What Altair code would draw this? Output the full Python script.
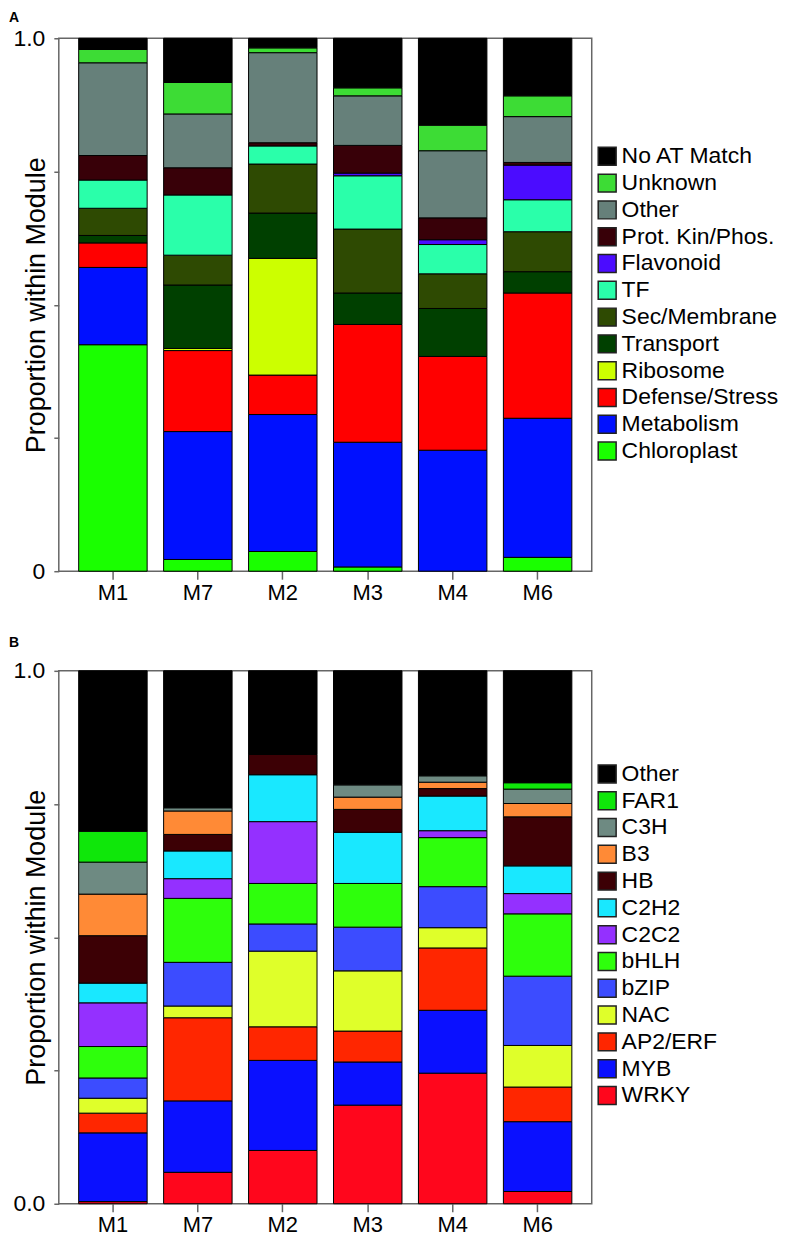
import altair as alt
import pandas as pd

modules = ["M1", "M7", "M2", "M3", "M4", "M6"]

# ---------------- Panel A (categories listed bottom-up) ----------------
a_categories = ["Chloroplast", "Metabolism", "Defense/Stress", "Ribosome", "Transport",
                "Sec/Membrane", "TF", "Flavonoid", "Prot. Kin/Phos.", "Other",
                "Unknown", "No AT Match"]
a_colors = ["#1aff00", "#0010ff", "#ff0000", "#ccff00", "#004000",
            "#2e4a02", "#2affaa", "#4b0cff", "#380008", "#66807a",
            "#3ddc35", "#000000"]
a_M1 = [0.425, 0.145, 0.046, 0.000, 0.014, 0.051, 0.053, 0.000, 0.046, 0.174, 0.025, 0.021]
a_M7 = [0.022, 0.240, 0.152, 0.004, 0.119, 0.056, 0.113, 0.000, 0.051, 0.101, 0.059, 0.083]
a_M2 = [0.037, 0.257, 0.074, 0.219, 0.085, 0.092, 0.034, 0.000, 0.006, 0.169, 0.009, 0.018]
a_M3 = [0.008, 0.234, 0.221, 0.000, 0.059, 0.120, 0.100, 0.005, 0.052, 0.093, 0.015, 0.093]
a_M4 = [0.000, 0.227, 0.176, 0.000, 0.090, 0.065, 0.055, 0.009, 0.041, 0.126, 0.048, 0.163]
a_M6 = [0.026, 0.261, 0.235, 0.000, 0.040, 0.075, 0.060, 0.065, 0.005, 0.086, 0.039, 0.108]

# ---------------- Panel B (categories listed bottom-up) ----------------
b_categories = ["WRKY", "MYB", "AP2/ERF", "NAC", "bZIP", "bHLH", "C2C2", "C2H2",
                "HB", "B3", "C3H", "FAR1", "Other"]
b_colors = ["#ff061c", "#0a10ff", "#ff2600", "#dfff2a", "#3c4cff", "#2eff0c",
            "#9430ff", "#19e8ff", "#3c0005", "#ff8a36", "#6e8a82", "#0fe70a",
            "#000000"]
b_M1 = [0.004, 0.129, 0.037, 0.028, 0.038, 0.059, 0.082, 0.037, 0.089, 0.078, 0.060, 0.058, 0.301]
b_M7 = [0.059, 0.134, 0.156, 0.022, 0.082, 0.120, 0.037, 0.052, 0.031, 0.044, 0.006, 0.000, 0.257]
b_M2 = [0.100, 0.169, 0.063, 0.142, 0.051, 0.076, 0.116, 0.088, 0.038, 0.000, 0.000, 0.000, 0.157]
b_M3 = [0.185, 0.081, 0.058, 0.113, 0.082, 0.082, 0.000, 0.096, 0.043, 0.023, 0.023, 0.000, 0.214]
b_M4 = [0.245, 0.118, 0.117, 0.038, 0.077, 0.092, 0.013, 0.065, 0.014, 0.012, 0.012, 0.000, 0.197]
b_M6 = [0.023, 0.131, 0.065, 0.078, 0.130, 0.117, 0.038, 0.052, 0.092, 0.025, 0.027, 0.012, 0.210]

FONT = "Liberation Sans"
GRAY = "#666666"


def build(cats, colors, per_module, zero_label, title, title_offset, legend_y):
    rows = []
    for m, vals in zip(modules, per_module):
        for i, (c, v) in enumerate(zip(cats, vals)):
            if v > 0:
                rows.append({"module": m, "cat": c, "value": v, "ord": i})
    df = pd.DataFrame(rows)
    label_expr = f"datum.value == 0 ? '{zero_label}' : (datum.value == 1 ? '1.0' : '')"
    return alt.Chart(df).mark_bar(stroke="black", strokeWidth=1).encode(
        x=alt.X("module:N", sort=modules,
                scale=alt.Scale(paddingInner=0.194, paddingOuter=0.234),
                axis=alt.Axis(title=None, labelAngle=0, labelFont=FONT, labelFontSize=22,
                              labelColor="black", labelPadding=3, tickSize=8,
                              tickColor=GRAY, tickWidth=1.5, domain=False)),
        y=alt.Y("value:Q", stack="normalize",
                scale=alt.Scale(domain=[0, 1], nice=False),
                axis=alt.Axis(values=[0, 0.25, 0.5, 0.75, 1], labelExpr=label_expr,
                              title="Proportion within Module", titleFont=FONT,
                              titleFontSize=27, titleFontWeight="normal", titleColor="black",
                              titleX=-22, titleBaseline="middle",
                              labelFont=FONT, labelFontSize=23, labelColor="black",
                              labelPadding=9, labelFlush=False, tickSize=5,
                              tickColor=GRAY, tickWidth=1.5, grid=False, domain=False)),
        color=alt.Color("cat:N",
                        scale=alt.Scale(domain=cats[::-1], range=colors[::-1]),
                        legend=alt.Legend(title=None, orient="none", legendX=539,
                                          legendY=legend_y, symbolType="square",
                                          symbolSize=324, symbolStrokeColor="#222222",
                                          symbolStrokeWidth=1.5, labelFont=FONT,
                                          labelFontSize=23, labelColor="black",
                                          labelLimit=300,
                                          labelOffset=3, rowPadding=1.9, padding=0)),
        order=alt.Order("ord:Q", sort="ascending"),
    ).properties(
        width=535, height=535,
        title=alt.TitleParams(text=title, anchor="start", frame="bounds", fontSize=14,
                              fontWeight="bold", font=FONT, color="black",
                              offset=title_offset, dx=-4),
    )


chart_a = build(a_categories, a_colors, [a_M1, a_M7, a_M2, a_M3, a_M4, a_M6],
                "0", "A", 2, 107)
chart_b = build(b_categories, b_colors, [b_M1, b_M7, b_M2, b_M3, b_M4, b_M6],
                "0.0", "B", 10, 92)

chart = alt.vconcat(chart_a, chart_b, spacing=31).resolve_scale(color="independent").properties(
    padding={"left": 0, "top": 0, "right": 0, "bottom": 0}
).configure_view(stroke=GRAY, strokeWidth=1.5)

chart.save("out.html", embed_options={"renderer": "svg", "actions": False})
